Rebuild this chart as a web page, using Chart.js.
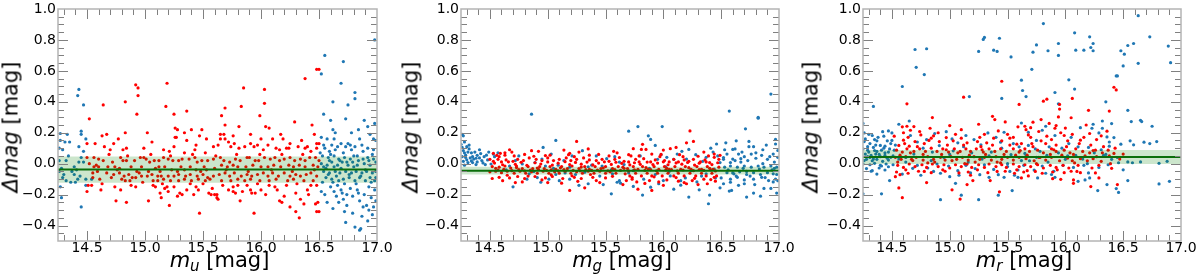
<!DOCTYPE html>
<html>
<head>
<meta charset="utf-8">
<script src="https://cdn.jsdelivr.net/npm/chart.js@4.4.0/dist/chart.umd.min.js"></script>
<style>
body { margin: 0; background: #fff; font-family: "DejaVu Sans", sans-serif; }
#wrap { position: relative; width: 1200px; height: 280px; overflow: hidden; }
.panel { position: absolute; top: 0; width: 400px; height: 280px; }
.ytitle { position: absolute; font-size: 21px; line-height: 21px; white-space: nowrap; transform: translate(-50%, -50%) rotate(-90deg); }
.xtitle { position: absolute; font-size: 21px; line-height: 21px; white-space: nowrap; transform: translateX(-50%); }
.xtitle sub { font-size: 15px; vertical-align: -4px; line-height: 0; }
</style>
</head>
<body>
<div id="wrap"></div>
<script>
// axis ranges and ticks (shared by the three panels)
const xMin = 14.25, xMax = 17.0;
const yMin = -0.5, yMax = 1.0;
const xTicks = [14.5, 15.0, 15.5, 16.0, 16.5, 17.0];
const yTicks = [-0.4, -0.2, 0.0, 0.2, 0.4, 0.6, 0.8, 1.0];

// mean offset and +-1 sigma band per filter
const uMean = -0.038, uBand = [-0.123, 0.047];
const gMean = -0.045, gBand = [-0.070, -0.020];
const rMean = 0.043, rBand = [-0.002, 0.088];

// points as flat x,y pairs
const uBlue = [
  14.43,0.48, 14.42,0.44, 14.47,0.38, 14.33,0.19, 14.31,0.14, 14.35,0.14, 14.45,0.21, 14.45,0.19, 14.49,0.16, 14.43,0.11,
  14.29,0.09, 14.47,0.08, 14.45,0.04, 14.32,0.02, 14.43,0.01, 14.47,0.01, 14.39,-0.02, 14.28,-0.03, 14.30,-0.07, 14.41,-0.04,
  14.39,-0.07, 14.44,-0.08, 14.42,-0.10, 14.40,-0.12, 14.36,-0.12, 14.32,-0.11, 14.49,-0.10, 14.49,-0.14, 14.27,-0.15, 14.28,-0.22,
  14.45,-0.28, 14.54,-0.10, 14.27,0.195, 14.26,0.10, 14.27,0.15, 14.26,0.02, 14.29,-0.09, 14.34,0.05, 14.37,-0.05, 14.26,-0.05,
  16.55,0.70, 16.71,0.66, 16.98,0.80, 16.52,0.58, 16.69,0.52, 16.81,0.46, 16.81,0.42, 16.62,0.40, 16.75,0.38, 16.54,0.32,
  16.73,0.29, 16.89,0.28, 16.60,0.28, 16.92,0.24, 16.98,0.26, 16.62,0.22, 16.64,0.20, 16.78,0.20, 16.84,0.22, 16.52,0.17,
  16.57,0.16, 16.63,0.16, 16.69,0.13, 16.75,0.13, 16.85,0.16, 16.94,0.19, 16.97,0.16, 16.99,0.15, 16.54,0.12, 16.61,0.12,
  16.66,0.11, 16.73,0.11, 16.78,0.09, 16.81,0.11, 16.87,0.12, 16.92,0.10, 16.97,0.09, 16.55,0.10, 16.59,0.08,
  16.53,0.05, 16.58,0.04, 16.63,0.05, 16.67,0.03, 16.72,0.04, 16.77,0.03, 16.83,0.05, 16.88,0.03, 16.92,0.04, 16.97,0.03,
  16.52,0.00, 16.57,-0.01, 16.61,0.01, 16.66,-0.01, 16.70,0.01, 16.75,-0.01, 16.79,0.01, 16.83,-0.01, 16.89,0.00, 16.94,-0.01,
  16.99,0.01, 16.54,-0.05, 16.59,-0.06, 16.64,-0.05, 16.68,-0.06, 16.73,-0.05, 16.78,-0.06, 16.82,-0.05, 16.87,-0.06, 16.91,-0.05,
  16.96,-0.06, 16.99,-0.05, 16.56,-0.09, 16.61,-0.10, 16.65,-0.08, 16.71,-0.10, 16.76,-0.09, 16.81,-0.11, 16.85,-0.09, 16.90,-0.11,
  16.94,-0.09, 16.98,-0.11, 16.52,-0.18, 16.55,-0.20, 16.60,-0.15, 16.63,-0.18, 16.65,-0.21, 16.69,-0.17, 16.71,-0.23, 16.74,-0.20,
  16.77,-0.16, 16.79,-0.21, 16.83,-0.17, 16.85,-0.24, 16.89,-0.20, 16.93,-0.15, 16.95,-0.22, 16.98,-0.17, 16.99,-0.24, 16.57,-0.25,
  16.62,-0.29, 16.67,-0.25, 16.72,-0.31, 16.79,-0.32, 16.87,-0.34, 16.92,-0.37, 16.96,-0.33, 16.73,-0.38, 16.81,-0.41, 16.85,-0.43,
  16.86,-0.42, 16.54,-0.02,
  16.51,0.07, 16.56,-0.03, 16.60,0.06, 16.62,-0.12, 16.64,0.09, 16.66,-0.14, 16.68,0.02, 16.69,-0.03, 16.71,0.07, 16.72,-0.13,
  16.74,0.01, 16.76,-0.07, 16.77,0.12, 16.80,-0.02, 16.82,-0.13, 16.84,0.02, 16.86,-0.08, 16.88,0.08, 16.90,-0.04, 16.91,-0.27,
  16.93,0.02, 16.95,-0.12, 16.96,0.06, 16.97,-0.28, 16.99,-0.09, 16.53,-0.12, 16.58,-0.07, 16.63,-0.02, 16.67,-0.11, 16.74,-0.27,
  16.80,0.05, 16.88,-0.28, 16.93,-0.30, 16.70,-0.19, 16.84,-0.19, 16.59,0.02
];
const uRed = [
  14.92,0.51, 14.94,0.49, 15.19,0.52, 14.94,0.44, 14.83,0.40, 14.64,0.38, 15.18,0.37, 14.52,0.29, 14.93,0.32, 15.25,0.32,
  15.36,0.34, 15.02,0.20, 14.83,0.20, 14.63,0.18, 14.67,0.19, 14.73,0.13, 15.26,0.23, 15.28,0.22, 15.34,0.20, 15.40,0.22,
  15.49,0.22, 15.47,0.18, 15.53,0.16, 15.26,0.17, 15.27,0.17, 15.25,0.11, 15.36,0.15, 14.57,0.13, 14.50,0.13, 14.65,0.11,
  14.70,0.09, 14.81,0.09, 14.84,0.10, 14.99,0.10, 15.16,0.09, 15.21,0.08, 15.34,0.07, 15.43,0.09, 15.52,0.07, 15.59,0.11,
  14.50,0.04, 14.56,0.04, 14.60,0.03, 14.64,0.02, 14.72,0.01, 14.79,0.04, 14.81,0.02, 14.84,0.02, 14.91,0.02, 14.96,0.04,
  14.99,0.04, 15.01,0.03, 15.04,0.01, 15.08,0.02, 15.12,0.02, 15.16,0.04, 15.20,0.03, 15.24,0.02, 15.29,0.02, 15.32,0.03,
  15.38,0.03, 15.43,0.04, 15.45,0.01, 15.49,0.02, 15.54,0.02, 15.59,0.03,
  14.52,-0.00, 14.56,-0.02, 14.60,-0.02, 14.68,-0.02, 14.74,-0.02, 14.78,-0.03, 14.88,-0.02, 14.93,-0.05, 14.97,-0.02, 15.03,-0.05,
  15.09,-0.03, 15.12,-0.02, 15.17,-0.02, 15.23,-0.04, 15.28,-0.05, 15.34,-0.04, 15.39,-0.02, 15.44,-0.04, 15.48,-0.05, 15.53,-0.04,
  15.60,-0.03, 14.55,-0.06, 14.59,-0.05, 14.67,-0.06, 14.73,-0.07, 14.78,-0.06, 14.82,-0.08, 14.86,-0.07, 14.89,-0.09, 14.92,-0.09,
  14.97,-0.08, 15.02,-0.08, 15.06,-0.07, 15.11,-0.08, 15.14,-0.08, 15.20,-0.08, 15.25,-0.08, 15.29,-0.07, 15.35,-0.08, 15.39,-0.07,
  15.45,-0.08, 15.50,-0.07, 15.54,-0.09, 15.59,-0.08, 14.55,-0.09, 14.61,-0.10, 14.71,-0.09, 14.80,-0.10, 14.83,-0.11, 14.87,-0.11,
  15.07,-0.11, 15.11,-0.11, 15.16,-0.10, 15.22,-0.11, 15.29,-0.11, 15.34,-0.10, 15.40,-0.11, 15.46,-0.10, 15.52,-0.11, 15.56,-0.10,
  14.51,-0.14, 14.54,-0.14, 14.50,-0.18, 14.62,-0.17, 14.74,-0.15, 14.75,-0.24, 14.84,-0.25, 14.88,-0.14, 14.92,-0.15, 15.03,-0.24,
  15.07,-0.14, 15.09,-0.15, 15.15,-0.13, 15.17,-0.16, 15.19,-0.15, 15.14,-0.22, 15.21,-0.27, 15.20,-0.18, 15.25,-0.15, 15.28,-0.21,
  15.30,-0.19, 15.32,-0.20, 15.36,-0.17, 15.39,-0.13, 15.42,-0.20, 15.44,-0.15, 15.46,-0.17, 15.50,-0.13, 15.55,-0.19, 15.57,-0.20,
  15.60,-0.20, 15.62,-0.22, 15.47,-0.32,
  16.48,0.61, 16.50,0.61, 16.38,0.55, 16.03,0.48, 15.85,0.49, 16.03,0.39, 15.83,0.37, 15.69,0.36, 15.66,0.31, 15.99,0.31,
  16.29,0.27, 15.69,0.25, 15.81,0.24, 16.04,0.24, 16.07,0.23, 16.44,0.25, 15.65,0.19, 15.68,0.19, 15.76,0.18, 15.91,0.19,
  16.00,0.16, 16.17,0.19, 16.19,0.16, 16.25,0.13, 15.65,0.16, 15.69,0.16, 15.74,0.11, 15.77,0.13, 15.81,0.10, 15.86,0.11,
  15.91,0.13, 15.94,0.11, 15.97,0.12, 16.02,0.09, 16.06,0.12, 16.13,0.10, 16.16,0.09, 16.22,0.10, 16.24,0.10, 16.32,0.11,
  16.38,0.10, 16.40,0.11, 16.43,0.08, 16.48,0.10, 16.50,0.13, 16.48,0.13, 15.63,0.12,
  15.65,0.04, 15.68,0.02, 15.73,0.01, 15.78,0.03, 15.82,0.02, 15.88,0.04, 15.90,0.04, 15.95,0.02, 15.98,0.02, 16.03,0.04,
  16.08,0.03, 16.12,0.04, 16.16,0.02, 16.20,0.03, 16.25,0.04, 16.29,0.02, 16.34,0.03, 16.38,0.02, 16.42,0.04, 16.47,0.04,
  16.50,0.02, 15.66,-0.01, 15.71,-0.02, 15.76,-0.01, 15.80,-0.02, 15.87,-0.02, 15.93,-0.01, 16.00,-0.02, 16.06,-0.02, 16.11,-0.01,
  16.17,-0.02, 16.24,-0.01, 16.28,-0.02, 16.33,-0.01, 16.38,-0.02, 16.45,-0.01, 16.49,-0.02, 15.64,-0.07, 15.69,-0.06, 15.73,-0.08,
  15.77,-0.06, 15.83,-0.08, 15.88,-0.07, 15.92,-0.08, 15.97,-0.07, 16.02,-0.06, 16.06,-0.08, 16.10,-0.06, 16.15,-0.08, 16.20,-0.06,
  16.25,-0.08, 16.30,-0.07, 16.34,-0.08, 16.39,-0.07, 16.43,-0.06, 16.48,-0.08, 15.66,-0.11, 15.74,-0.11, 15.80,-0.10, 15.86,-0.11,
  15.91,-0.10, 15.99,-0.11, 16.07,-0.11, 16.13,-0.10, 16.23,-0.11, 16.28,-0.10, 16.37,-0.11, 16.45,-0.11,
  15.67,-0.14, 15.76,-0.15, 15.80,-0.14, 15.88,-0.14, 15.97,-0.13, 16.07,-0.14, 16.12,-0.15, 16.22,-0.14, 16.31,-0.13, 16.43,-0.14,
  16.48,-0.14, 15.62,-0.20, 15.63,-0.23, 15.76,-0.18, 15.78,-0.19, 15.82,-0.24, 15.91,-0.17, 15.92,-0.19, 15.95,-0.19, 16.00,-0.17,
  16.14,-0.17, 16.16,-0.24, 16.18,-0.25, 16.30,-0.19, 16.34,-0.23, 16.37,-0.26, 16.41,-0.20, 16.47,-0.26, 16.49,-0.25, 16.25,-0.28,
  16.30,-0.31, 16.33,-0.35, 15.94,-0.32, 16.48,-0.31, 16.50,-0.31,
  14.58,-0.01, 14.69,0.06, 14.76,-0.04, 14.85,0.05, 14.95,-0.06, 15.05,0.06, 15.13,-0.05, 15.22,0.05, 15.31,-0.02, 15.41,0.06,
  15.51,-0.02, 15.61,0.05, 15.70,-0.04, 15.79,0.06, 15.89,-0.05, 15.99,0.06, 16.09,-0.04, 16.18,0.06, 16.27,-0.05, 16.36,0.06,
  16.46,-0.04, 14.63,-0.13, 14.79,-0.17, 14.98,-0.12, 15.13,-0.19, 15.58,-0.16, 15.72,-0.17, 15.84,-0.18, 16.04,-0.20, 16.20,-0.21,
  16.40,-0.17, 14.77,0.16, 15.06,0.14, 15.44,0.12, 15.72,0.14, 16.10,0.16, 16.35,0.15, 16.46,0.19
];

const gBlue = [
  14.26,0.19, 14.27,0.18, 14.32,0.12, 14.30,0.11, 14.26,0.105, 14.28,0.07, 14.31,0.075, 14.34,0.07, 14.37,0.075, 14.41,0.09,
  14.39,0.054, 14.26,0.045, 14.29,0.04, 14.33,0.037, 14.36,0.03, 14.41,0.037, 14.45,0.045, 14.27,0.015, 14.31,0.007, 14.35,0.007,
  14.39,0.011, 14.43,0.02, 14.48,0.024, 14.28,-0.01, 14.38,-0.006, 14.46,-0.006, 14.51,-0.002, 14.53,0.062, 14.54,0.045, 14.57,0.07,
  14.86,0.32, 14.96,0.105, 15.07,0.15, 14.75,0.05, 14.70,-0.15, 14.82,-0.10, 14.91,-0.09, 14.94,-0.12, 15.01,-0.10, 15.10,-0.11,
  15.19,-0.10, 15.27,-0.14, 15.35,-0.13, 15.48,-0.135, 15.55,-0.195, 15.60,-0.12, 15.62,-0.11, 15.30,0.084, 15.03,0.062, 15.14,0.02,
  15.21,0.05, 15.42,0.05, 15.51,0.032, 15.58,0.045, 14.67,-0.015, 14.78,-0.002, 14.89,0.007, 14.98,-0.015, 15.09,-0.01, 15.19,-0.023,
  15.38,-0.01, 15.47,-0.015, 14.84,-0.066, 15.07,-0.07, 15.24,-0.07, 15.45,-0.08, 15.56,-0.066,
  16.57,0.34, 16.82,0.30, 16.82,0.294, 15.70,0.21, 15.78,0.24, 15.99,0.24, 15.87,0.18, 15.89,0.157, 15.93,0.118, 16.71,0.225,
  16.54,0.135, 16.63,0.148, 16.74,0.144, 16.74,0.11, 16.97,0.157, 16.97,0.127, 16.41,0.10, 16.46,0.127, 16.43,0.075, 16.60,0.092,
  16.65,0.062, 16.70,0.045, 16.67,0.032, 16.76,0.062, 16.80,0.07, 16.85,0.054, 16.90,0.028, 16.95,0.062, 16.99,0.041, 16.52,0.028,
  16.55,0.062, 16.58,0.007, 16.62,0.02, 16.49,0.007, 16.16,0.08, 16.22,0.092, 16.12,0.062, 16.09,0.028, 15.98,0.058, 15.95,0.028,
  16.03,0.041, 16.28,0.058, 16.37,0.041, 16.34,0.015, 15.66,-0.006, 16.53,-0.023, 16.58,-0.015, 16.64,-0.023, 16.70,-0.015, 16.76,-0.023,
  16.82,-0.015, 16.87,-0.023, 16.93,-0.015, 16.98,-0.023, 16.55,-0.058, 16.61,-0.066, 16.66,-0.053, 16.72,-0.07, 16.78,-0.058, 16.84,-0.07,
  16.90,-0.058, 16.95,-0.066, 16.50,-0.092, 16.58,-0.10, 16.64,-0.088, 16.70,-0.105, 16.78,-0.10, 16.85,-0.088, 16.91,-0.109, 16.97,-0.10,
  16.52,-0.13, 16.65,-0.14, 16.79,-0.135, 16.87,-0.16, 16.95,-0.118, 16.99,-0.11, 16.57,-0.177, 16.59,-0.173, 16.72,-0.216, 16.78,-0.19,
  16.40,-0.203, 16.39,-0.259, 16.22,-0.216, 16.09,-0.165, 16.15,-0.139, 16.31,-0.169, 16.29,-0.118, 15.82,-0.203, 15.74,-0.147, 15.63,-0.126,
  15.89,-0.152, 16.00,-0.109, 16.06,-0.079, 16.19,-0.092, 15.74,-0.045, 15.83,-0.10, 15.93,-0.07, 16.37,-0.066, 16.45,-0.092, 16.49,-0.156,
  16.93,0.45,
  14.27,0.085, 14.29,0.055, 14.32,0.095, 14.35,0.045, 14.38,0.035, 14.42,0.065, 14.44,0.005, 14.47,0.055, 14.49,0.075, 14.34,0.018,
  14.30,0.025, 14.25,0.125, 14.28,0.140, 14.64,-0.04, 14.88,-0.05, 15.05,-0.03, 15.32,-0.055, 15.55,-0.04, 15.70,-0.06, 15.88,-0.03,
  16.05,-0.05, 16.24,-0.045, 16.44,-0.035, 16.52,0.04, 16.56,-0.04, 16.60,0.03, 16.63,-0.08, 16.67,0.01, 16.69,-0.03, 16.73,0.02,
  16.75,-0.08, 16.80,0.035, 16.83,-0.035, 16.86,0.00, 16.88,-0.09, 16.92,0.045, 16.94,-0.04, 16.96,0.01, 16.98,-0.07, 16.99,0.085,
  16.62,0.095, 16.78,0.11, 16.89,0.12, 16.70,-0.13, 16.93,-0.16, 16.98,-0.19, 16.84,-0.21, 16.58,-0.12,
  15.15,-0.06, 15.35,-0.02, 15.62,0.01, 15.80,0.05, 16.02,-0.02, 16.20,0.03, 16.33,-0.08, 16.47,0.05, 14.95,0.03, 14.72,0.02,
  16.15,-0.11, 15.96,-0.13, 16.53,0.09, 16.68,0.075, 16.86,0.09, 16.96,-0.03, 16.72,-0.05, 16.60,-0.06
];
const gRed = [
  14.52,-0.096, 14.53,0.067, 14.56,0.054, 14.59,0.067, 14.63,0.07, 14.67,0.09, 14.69,0.075, 14.50,0.028, 14.53,0.015, 14.57,0.028,
  14.60,0.011, 14.64,0.024, 14.70,0.015, 14.74,0.028, 14.79,0.02, 14.84,0.037, 14.90,0.028, 14.95,0.02, 15.00,0.037, 15.05,0.02,
  15.10,0.028, 15.16,0.037, 15.20,0.02, 15.25,0.028, 15.31,0.037, 15.36,0.024, 15.42,0.02, 15.47,0.028, 15.53,0.015, 15.58,0.028,
  15.25,0.144, 15.27,0.075, 14.86,0.084, 14.92,0.08, 15.14,0.088, 15.19,0.067, 15.57,0.08, 15.60,0.07,
  14.52,-0.019, 14.58,-0.023, 14.63,-0.015, 14.68,-0.028, 14.73,-0.015, 14.78,-0.032, 14.83,-0.019, 14.87,-0.032, 14.93,-0.019, 14.97,-0.032,
  15.02,-0.019, 15.07,-0.036, 15.12,-0.019, 15.17,-0.032, 15.21,-0.015, 15.27,-0.032, 15.32,-0.019, 15.36,-0.036, 15.41,-0.019, 15.46,-0.032,
  15.50,-0.019, 15.56,-0.032, 15.61,-0.019, 14.50,-0.053, 14.55,-0.049, 14.60,-0.058, 14.65,-0.049, 14.71,-0.062, 14.76,-0.049, 14.81,-0.062,
  14.86,-0.053, 14.91,-0.062, 14.96,-0.049, 15.01,-0.062, 15.06,-0.053, 15.10,-0.062, 15.15,-0.049, 15.20,-0.062, 15.25,-0.053, 15.30,-0.062,
  15.35,-0.049, 15.40,-0.062, 15.45,-0.049, 15.50,-0.062, 15.54,-0.053, 15.59,-0.062, 14.58,-0.088, 14.67,-0.092, 14.74,-0.083, 14.80,-0.096,
  14.89,-0.083, 14.98,-0.092, 15.04,-0.083, 15.13,-0.096, 15.23,-0.088, 15.29,-0.096, 15.39,-0.088, 15.42,-0.109, 15.50,-0.092, 14.72,-0.122,
  15.00,-0.122, 15.19,-0.173, 15.32,-0.156,
  16.23,0.212, 16.20,0.135, 16.26,0.144, 16.11,0.105, 16.06,0.097, 15.74,0.097, 15.81,0.092, 15.85,0.092, 15.72,0.05, 15.66,0.015,
  15.70,0.011, 15.76,0.028, 15.79,0.011, 15.83,0.032, 15.89,0.011, 15.93,0.024, 15.97,0.045, 16.01,0.02, 16.05,0.011, 16.09,0.028,
  16.13,0.011, 16.18,0.024, 16.22,0.015, 16.26,0.028, 16.32,0.011, 16.36,0.024, 16.40,0.007, 16.44,0.041, 16.48,0.028, 16.35,0.075,
  16.44,0.062, 16.49,0.054, 15.65,-0.023, 15.69,-0.032, 15.74,-0.019, 15.78,-0.036, 15.82,-0.019, 15.87,-0.036, 15.92,-0.019, 15.96,-0.036,
  16.01,-0.019, 16.05,-0.036, 16.10,-0.019, 16.15,-0.036, 16.19,-0.019, 16.24,-0.036, 16.29,-0.019, 16.33,-0.036, 16.38,-0.019, 16.43,-0.036,
  16.48,-0.023, 15.67,-0.066, 15.71,-0.079, 15.76,-0.062, 15.81,-0.079, 15.86,-0.062, 15.90,-0.079, 15.95,-0.062, 15.99,-0.079, 16.04,-0.062,
  16.09,-0.079, 16.13,-0.062, 16.18,-0.079, 16.23,-0.062, 16.28,-0.079, 16.33,-0.062, 16.37,-0.079, 16.42,-0.062, 16.46,-0.079, 15.68,-0.109,
  15.77,-0.118, 15.73,-0.10, 15.88,-0.109, 15.96,-0.118, 16.03,-0.105, 16.13,-0.113, 16.25,-0.109, 16.35,-0.10, 16.45,-0.113, 15.78,-0.165,
  15.90,-0.173, 16.20,-0.13, 16.38,-0.13,
  14.54,0.004, 14.61,-0.007, 14.66,0.012, 14.72,-0.004, 14.77,0.009, 14.82,-0.011, 14.89,0.006, 14.94,-0.002, 15.00,0.011, 15.04,-0.009,
  15.09,0.003, 15.15,0.013, 15.19,-0.006, 15.24,0.008, 15.29,-0.003, 15.34,0.010, 15.39,-0.008, 15.44,0.004, 15.49,0.012, 15.55,-0.005,
  15.59,0.009, 15.64,0.002, 15.71,-0.008, 15.75,0.006, 15.80,-0.004, 15.86,0.010, 15.91,-0.006, 15.95,0.004, 16.00,0.012, 16.04,-0.007,
  16.11,0.005, 16.16,-0.003, 16.21,0.008, 16.27,-0.009, 16.31,0.003, 16.37,0.011, 16.42,-0.006, 16.47,0.006,
  14.57,-0.041, 14.62,-0.036, 14.69,-0.045, 14.75,-0.039, 14.80,-0.047, 14.85,-0.042, 14.92,-0.037, 14.99,-0.044, 15.03,-0.040, 15.09,-0.047,
  15.14,-0.038, 15.22,-0.043, 15.28,-0.046, 15.33,-0.039, 15.38,-0.044, 15.43,-0.041, 15.52,-0.046, 15.58,-0.038, 15.63,-0.043, 15.70,-0.047,
  15.75,-0.040, 15.84,-0.044, 15.89,-0.038, 15.94,-0.046, 16.02,-0.042, 16.07,-0.039, 16.12,-0.047, 16.17,-0.041, 16.26,-0.045, 16.31,-0.038,
  16.35,-0.044, 16.41,-0.040, 16.45,-0.047,
  14.61,-0.110, 14.78,-0.118, 14.95,-0.105, 15.12,-0.126, 15.26,-0.114, 15.45,-0.122, 15.65,-0.135, 15.84,-0.128, 16.00,-0.140, 16.18,-0.122,
  16.30,-0.135, 16.41,-0.103, 14.63,0.055, 14.80,0.06, 14.98,0.052, 15.18,0.058, 15.36,0.055, 15.53,0.05, 15.70,0.058, 15.90,0.062,
  16.14,0.058, 16.30,0.048, 15.35,0.095, 15.82,0.125, 16.00,0.088,
  14.58,0.045, 14.71,0.05, 14.88,0.048, 15.02,0.055, 15.23,0.045, 15.44,0.06, 15.62,0.04, 15.79,0.05, 15.98,0.06, 16.17,0.045,
  16.39,0.05, 14.65,-0.075, 14.83,-0.08, 15.03,-0.072, 15.21,-0.078, 15.37,-0.07, 15.56,-0.082, 15.73,-0.09, 15.92,-0.085, 16.11,-0.09,
  16.27,-0.095, 16.44,-0.088, 14.55,-0.03, 14.73,-0.025, 14.91,-0.028, 15.11,-0.027, 15.29,-0.022, 15.48,-0.028, 15.66,-0.03, 15.85,-0.025,
  16.03,-0.03, 16.22,-0.026, 16.40,-0.03
];

const rBlue = [
  15.30,0.816, 15.29,0.803, 15.43,0.811, 14.70,0.738, 14.80,0.743, 15.25,0.726, 15.38,0.734, 15.41,0.726, 15.53,0.69, 14.71,0.623,
  14.78,0.576, 14.59,0.499, 15.62,0.54, 15.63,0.473, 15.17,0.434, 15.45,0.422, 14.34,0.37, 14.25,0.26, 14.65,0.276, 14.56,0.255,
  15.62,0.263, 14.41,-0.195, 14.25,-0.195, 14.92,-0.233, 15.25,-0.233, 15.10,-0.204, 15.05,-0.127, 15.42,-0.204, 15.54,-0.174, 14.48,-0.109,
  15.34,-0.088, 15.47,-0.088, 15.59,-0.088,
  14.26,0.199, 14.30,0.19, 14.33,0.182, 14.35,0.156, 14.26,0.143, 14.31,0.13, 14.37,0.148, 14.42,0.207, 14.43,0.178, 14.47,0.212,
  14.50,0.199, 14.46,0.148, 14.40,0.118, 14.44,0.113, 14.49,0.13, 14.25,0.096, 14.29,0.087, 14.34,0.105, 14.37,0.079, 14.41,0.087,
  14.47,0.075, 14.52,0.087, 14.27,0.062, 14.32,0.053, 14.36,0.062, 14.40,0.045, 14.44,0.053, 14.49,0.041, 14.28,0.028, 14.33,0.019,
  14.37,0.028, 14.42,0.015, 14.47,0.023, 14.25,-0.002, 14.31,-0.007, 14.35,0.002, 14.40,-0.011, 14.45,-0.002, 14.51,-0.007, 14.28,-0.032,
  14.33,-0.045, 14.39,-0.028, 14.44,-0.041, 14.37,-0.067, 14.32,-0.049,
  14.66,0.182, 14.80,0.156, 14.87,0.195, 14.97,0.207, 15.14,0.182, 15.21,0.156, 15.33,0.199, 15.47,0.203, 15.55,0.13, 14.62,0.01,
  14.72,-0.011, 14.81,-0.028, 14.89,-0.002, 14.99,-0.015, 15.07,-0.045, 15.14,-0.011, 15.22,-0.032, 15.30,-0.007, 15.38,-0.037, 15.50,-0.019,
  15.59,-0.041, 14.69,0.062, 14.85,0.075, 15.03,0.083, 15.19,0.07, 15.36,0.075, 15.53,0.058, 14.59,-0.067, 14.75,-0.075, 14.92,-0.062,
  15.00,-0.084, 15.08,-0.075, 15.26,-0.071, 15.42,-0.071, 15.56,-0.075, 14.91,0.117, 15.07,0.135, 15.27,0.122, 15.44,0.139, 15.60,0.109,
  16.63,0.957, 15.81,0.906, 16.08,0.846, 16.21,0.82, 16.73,0.82, 15.75,0.768, 15.94,0.777, 16.24,0.777, 16.22,0.751, 16.59,0.777,
  16.54,0.764, 16.89,0.76, 15.72,0.721, 15.85,0.73, 16.09,0.734, 16.16,0.734, 16.24,0.73, 16.48,0.73, 16.51,0.708, 15.94,0.70,
  16.91,0.653, 16.63,0.649, 16.50,0.632, 15.71,0.61, 16.44,0.567, 16.45,0.567, 16.03,0.542, 16.08,0.482, 15.91,0.46, 15.66,0.434,
  16.35,0.40, 15.94,0.387, 16.54,0.345, 16.65,0.28, 16.66,0.272, 16.57,0.272, 16.75,0.242, 16.32,0.276, 16.40,0.259, 16.24,0.255,
  16.13,0.233, 16.23,0.229, 16.32,0.229, 16.29,0.199, 16.36,0.173, 16.42,0.169, 16.56,0.148, 16.59,0.122, 16.73,0.13, 16.79,0.143,
  16.68,0.139, 16.48,0.126, 16.38,0.113, 16.20,0.105, 16.11,0.109, 16.03,0.13, 15.91,0.182, 15.83,0.242, 15.80,0.216, 15.68,0.203,
  16.40,0.028, 16.46,0.006, 16.54,0.011, 16.58,0.006, 16.65,0.011, 16.81,0.002, 16.88,0.015, 16.81,-0.131, 16.90,-0.114, 16.54,-0.109,
  16.36,-0.135, 16.46,-0.186, 16.44,-0.161, 16.28,-0.174, 16.21,-0.092, 16.17,-0.105, 16.11,-0.114, 16.16,-0.011, 16.29,-0.024, 16.37,-0.007,
  16.07,-0.024, 15.98,-0.011, 15.90,-0.049, 16.00,0.028, 16.09,0.053, 16.25,0.07, 16.33,0.053, 15.94,0.07, 15.84,0.053, 15.75,0.041,
  15.69,0.019, 15.65,0.066, 15.64,-0.011, 15.73,-0.041, 15.80,-0.015, 15.83,-0.062, 15.76,-0.092, 15.91,-0.088, 15.68,0.118, 15.74,0.096,
  15.86,0.109,
  14.27,0.16, 14.29,0.11, 14.31,0.04, 14.35,0.085, 14.38,0.17, 14.39,0.06, 14.43,0.10, 14.46,0.035, 14.48,0.095, 14.51,0.05,
  14.53,0.12, 14.26,0.02, 14.30,0.075, 14.34,0.03, 14.41,-0.015, 14.47,-0.02, 14.62,0.04, 14.77,0.10, 14.95,0.04, 15.12,0.11,
  15.28,0.03, 15.45,0.10, 15.62,0.02, 15.78,0.08, 15.97,0.10, 16.15,0.03, 16.31,0.09, 16.45,0.04, 14.72,0.14, 15.02,0.16,
  15.40,0.17, 15.75,0.15, 16.05,0.17, 16.38,0.14, 14.86,-0.05, 15.18,-0.06, 15.52,-0.05, 15.88,-0.07, 16.20,-0.06, 16.50,-0.04,
  14.56,0.03, 14.68,-0.03, 14.84,0.02, 15.00,0.06, 15.16,0.01, 15.34,0.05, 15.50,0.0, 15.66,0.05, 15.85,0.01, 16.02,0.05,
  16.19,0.0, 16.35,0.06, 14.29,0.045, 14.36,0.12, 14.44,0.07, 14.50,0.15
];
const rRed = [
  15.45,0.533, 15.12,0.43, 14.63,0.387, 14.85,0.298, 15.37,0.306, 15.39,0.285, 15.00,0.246, 15.25,0.255, 14.83,0.229, 14.59,0.238,
  14.63,0.242, 14.66,0.216, 15.60,0.383, 15.59,0.238, 15.42,0.212, 14.74,0.208, 14.56,-0.157, 14.59,-0.22, 14.80,-0.122, 15.02,-0.169,
  15.09,-0.229, 15.15,-0.135, 15.43,-0.182,
  14.52,0.178, 14.56,0.118, 14.60,0.152, 14.65,0.113, 14.70,0.143, 14.75,0.186, 14.78,0.13, 14.84,0.165, 14.91,0.143, 14.97,0.169,
  15.03,0.148, 15.10,0.165, 15.15,0.135, 15.24,0.143, 15.32,0.135, 15.38,0.165, 15.45,0.148, 15.52,0.165, 15.58,0.126,
  14.54,0.087, 14.59,0.075, 14.63,0.096, 14.69,0.079, 14.74,0.096, 14.79,0.079, 14.84,0.10, 14.89,0.079, 14.94,0.096, 14.99,0.075,
  15.04,0.096, 15.09,0.079, 15.14,0.096, 15.18,0.079, 15.23,0.096, 15.29,0.075, 15.34,0.096, 15.39,0.079, 15.44,0.096, 15.49,0.079,
  15.55,0.096, 15.60,0.075, 14.53,0.041, 14.58,0.028, 14.62,0.045, 14.67,0.028, 14.71,0.041, 14.77,0.023, 14.81,0.045, 14.86,0.028,
  14.92,0.041, 14.96,0.023, 15.01,0.045, 15.06,0.028, 15.11,0.041, 15.16,0.023, 15.21,0.045, 15.26,0.028, 15.30,0.041, 15.36,0.023,
  15.40,0.045, 15.45,0.028, 15.50,0.041, 15.55,0.023, 15.60,0.041, 14.55,-0.011, 14.60,-0.024, 14.65,-0.002, 14.70,-0.019, 14.76,-0.007,
  14.80,-0.024, 14.85,-0.002, 14.90,-0.019, 14.95,-0.007, 15.00,-0.028, 15.05,-0.007, 15.10,-0.019, 15.15,-0.002, 15.19,-0.024, 15.25,-0.007,
  15.30,-0.024, 15.34,-0.002, 15.40,-0.019, 15.45,-0.007, 15.49,-0.024, 15.55,-0.002, 15.60,-0.019, 14.54,-0.054, 14.64,-0.062, 14.73,-0.049,
  14.84,-0.058, 14.96,-0.049, 15.16,-0.054, 15.18,-0.075, 15.33,-0.058, 15.48,-0.049, 15.56,-0.062, 14.53,-0.084, 14.57,-0.071, 15.35,-0.109,
  15.20,-0.109,
  16.42,0.494, 16.44,0.477, 16.06,0.422, 15.84,0.417, 15.81,0.404, 15.95,0.383, 15.95,0.353, 16.20,0.345, 16.38,0.34, 16.05,0.297,
  15.94,0.302, 15.79,0.285, 15.72,0.268, 15.70,0.233, 15.65,0.242, 15.92,0.246, 15.91,0.229, 15.77,0.208, 15.68,0.186, 15.84,0.178,
  15.99,0.182, 16.06,0.19, 16.21,0.195, 16.27,0.156, 16.13,0.152, 16.02,0.148, 15.88,0.156, 15.79,0.148, 15.71,0.13, 15.65,0.096,
  15.69,0.079, 15.76,0.087, 15.81,0.07, 15.88,0.096, 15.92,0.079, 15.99,0.087, 16.04,0.07, 16.09,0.096, 16.15,0.079, 16.21,0.07,
  16.26,0.087, 16.32,0.07, 16.37,0.087, 16.42,0.066, 16.50,0.062, 15.66,0.032, 15.73,0.019, 15.77,0.041, 15.83,0.023, 15.88,0.041,
  15.95,0.019, 16.02,0.036, 16.06,0.019, 16.13,0.032, 16.19,0.019, 16.24,0.032, 16.31,0.015, 15.65,-0.007, 15.70,-0.019, 15.76,-0.007,
  15.81,-0.028, 15.87,-0.011, 15.92,-0.024, 15.98,-0.011, 16.03,-0.028, 16.11,-0.011, 16.23,-0.028, 16.29,-0.011, 15.64,-0.054, 15.68,-0.079,
  15.67,-0.045, 15.80,-0.062, 15.89,-0.054, 15.99,-0.058, 16.05,-0.049, 16.13,-0.058, 15.89,-0.097, 15.96,-0.101, 16.07,-0.105, 16.07,-0.127,
  16.29,-0.092, 16.22,-0.148, 16.45,-0.135, 15.62,-0.092,
  14.57,0.055, 14.61,0.13, 14.68,0.02, 14.72,0.11, 14.77,0.06, 14.82,0.15, 14.87,0.01, 14.93,0.06, 14.98,0.12, 15.02,0.02,
  15.07,0.07, 15.12,0.12, 15.17,0.055, 15.22,0.01, 15.27,0.11, 15.31,0.06, 15.37,0.12, 15.41,0.01, 15.47,0.06, 15.52,0.12,
  15.57,0.055, 15.62,0.13, 15.67,0.055, 15.72,0.11, 15.78,0.04, 15.83,0.13, 15.87,0.06, 15.92,0.12, 15.97,0.055, 16.01,0.11,
  16.07,0.06, 16.12,0.13, 16.17,0.05, 16.22,0.12, 16.27,0.045, 16.33,0.11, 16.38,0.05, 16.43,0.10, 16.47,0.03,
  14.62,-0.04, 14.78,-0.05, 14.94,-0.04, 15.08,-0.06, 15.24,-0.04, 15.41,-0.05, 15.58,-0.04, 15.74,-0.05, 15.93,-0.04, 16.10,-0.05,
  16.26,-0.06, 16.40,-0.03, 14.69,0.24, 14.90,0.20, 15.10,0.22, 15.30,0.19, 15.48,0.27, 15.66,0.22, 15.86,0.26, 16.00,0.23,
  16.18,0.25, 16.36,0.21, 14.60,0.20, 15.55,0.17,
  14.55,0.01, 14.66,0.07, 14.81,0.005, 14.97,0.09, 15.13,0.0, 15.28,0.09, 15.44,0.005, 15.61,0.085, 15.75,0.0, 15.90,0.09,
  16.08,0.005, 16.24,0.085, 16.39,0.0, 14.64,0.17, 14.86,0.18, 15.05,0.19, 15.26,0.17, 15.50,0.19, 15.70,0.17, 15.96,0.20,
  16.16,0.17, 16.31,0.18
];

// layout of the three panels: canvas offset and plot-area edges inside it
const panels = [
  { blue: uBlue, red: uRed, mean: uMean, band: uBand, sub: 'u', offset: 0,   areaLeft: 58, areaRight: 377 },
  { blue: gBlue, red: gRed, mean: gMean, band: gBand, sub: 'g', offset: 400, areaLeft: 61, areaRight: 379 },
  { blue: rBlue, red: rRed, mean: rMean, band: rBand, sub: 'r', offset: 800, areaLeft: 63, areaRight: 381 }
];

function toPoints(flat) {
  const pts = [];
  for (let i = 0; i < flat.length; i += 2) {
    pts.push({ x: flat[i], y: flat[i + 1] });
  }
  return pts;
}

function fmt(v) {
  return (v < 0 ? '\u2212' : '') + Math.abs(v).toFixed(1);
}

// matplotlib-like inward ticks on all four sides plus the grey frame
const frameTicks = {
  id: 'frameTicks',
  afterDraw(chart) {
    const ctx = chart.ctx;
    const a = chart.chartArea;
    const sx = chart.scales.x, sy = chart.scales.y;
    const major = 10, minor = 6;
    ctx.save();
    ctx.strokeStyle = '#808080';
    ctx.lineWidth = 1;
    ctx.beginPath();
    for (let i = 1; i < 28; i++) {
      const v = xMin + 0.05 + i * 0.1 - 0.1;
      const isMajor = Math.abs(v * 2 - Math.round(v * 2)) < 1e-6;
      const len = isMajor ? major : minor;
      const px = Math.round(sx.getPixelForValue(v)) + 0.5;
      ctx.moveTo(px, a.bottom); ctx.lineTo(px, a.bottom - len);
      ctx.moveTo(px, a.top); ctx.lineTo(px, a.top + len);
    }
    for (let i = 1; i < 30; i++) {
      const v = yMin + i * 0.05;
      const isMajor = Math.abs(v * 5 - Math.round(v * 5)) < 1e-6;
      const len = isMajor ? major : minor;
      const py = Math.round(sy.getPixelForValue(v)) + 0.5;
      ctx.moveTo(a.left, py); ctx.lineTo(a.left + len, py);
      ctx.moveTo(a.right, py); ctx.lineTo(a.right - len, py);
    }
    ctx.stroke();
    ctx.strokeStyle = '#b4b4b4';
    ctx.lineWidth = 1.5;
    ctx.strokeRect(a.left, a.top, a.right - a.left, a.bottom - a.top);
    ctx.restore();
  }
};

const wrap = document.getElementById('wrap');

panels.forEach(function (p) {
  const box = document.createElement('div');
  box.className = 'panel';
  box.style.left = p.offset + 'px';
  const canvas = document.createElement('canvas');
  canvas.width = 400;
  canvas.height = 280;
  box.appendChild(canvas);
  wrap.appendChild(box);

  const chart = new Chart(canvas.getContext('2d'), {
    type: 'scatter',
    data: {
      datasets: [
        {
          type: 'line', data: [{ x: xMin, y: p.mean }, { x: xMax, y: p.mean }],
          borderColor: '#0a6e0a', borderWidth: 2, pointRadius: 0, fill: false, order: 0
        },
        {
          type: 'line', data: [{ x: xMin, y: p.band[1] }, { x: xMax, y: p.band[1] }],
          borderWidth: 0, pointRadius: 0, fill: '+1', backgroundColor: 'rgba(0,128,0,0.2)', order: 1
        },
        {
          type: 'line', data: [{ x: xMin, y: p.band[0] }, { x: xMax, y: p.band[0] }],
          borderWidth: 0, pointRadius: 0, fill: false, order: 2
        },
        {
          data: toPoints(p.red), backgroundColor: '#ff0000', borderWidth: 0, pointRadius: 1.6, order: 3
        },
        {
          data: toPoints(p.blue), backgroundColor: '#1f77b4', borderWidth: 0, pointRadius: 1.6, order: 4
        }
      ]
    },
    options: {
      responsive: false,
      animation: false,
      devicePixelRatio: 1,
      layout: { padding: { top: 7, right: 400 - p.areaRight, bottom: 0, left: 0 } },
      plugins: { legend: { display: false }, tooltip: { enabled: false } },
      scales: {
        x: {
          type: 'linear', min: xMin, max: xMax,
          grid: { display: false, drawTicks: false },
          border: { display: false },
          afterBuildTicks: function (s) { s.ticks = xTicks.map(v => ({ value: v })); },
          afterFit: function (s) { s.height = 39; },
          ticks: {
            autoSkip: false, maxRotation: 0, padding: 0, color: '#000',
            font: { family: 'DejaVu Sans', size: 14, lineHeight: 1 },
            callback: v => v.toFixed(1)
          }
        },
        y: {
          type: 'linear', min: yMin, max: yMax,
          grid: { display: false, drawTicks: false },
          border: { display: false },
          afterBuildTicks: function (s) { s.ticks = yTicks.map(v => ({ value: v })); },
          afterFit: function (s) { s.width = p.areaLeft; },
          ticks: {
            autoSkip: false, padding: 2, color: '#000',
            font: { family: 'DejaVu Sans', size: 14, lineHeight: 1 },
            callback: v => fmt(v)
          }
        }
      }
    },
    plugins: [frameTicks]
  });

  const a = chart.chartArea;
  const yt = document.createElement('div');
  yt.className = 'ytitle';
  yt.innerHTML = '<i>\u0394mag</i> [mag]';
  yt.style.left = (p.offset + 10.5) + 'px';
  yt.style.top = ((a.top + a.bottom) / 2 + 2) + 'px';
  wrap.appendChild(yt);

  const xt = document.createElement('div');
  xt.className = 'xtitle';
  xt.innerHTML = '<i>m</i><sub><i>' + p.sub + '</i></sub> [mag]';
  xt.style.left = (p.offset + (a.left + a.right) / 2 + 2) + 'px';
  xt.style.top = '250px';
  wrap.appendChild(xt);
});
</script>
</body>
</html>
